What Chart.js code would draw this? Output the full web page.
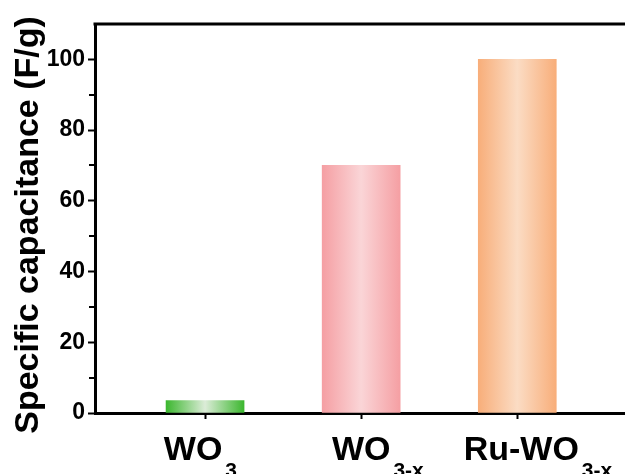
<!DOCTYPE html>
<html>
<head>
<meta charset="utf-8">
<script src="https://cdn.jsdelivr.net/npm/chart.js@4/dist/chart.umd.min.js"></script>
<style>
  html, body { margin: 0; padding: 0; background: #fff; }
  #c { display: block; }
</style>
</head>
<body>
<canvas id="c" width="625" height="474"></canvas>
<script>
// Samples and their specific capacitance (F/g)
const sampleNames = ['WO', 'WO', 'Ru-WO'];
const sampleSubscripts = ['3', '3-x', '3-x'];
const capacitance = [3.5, 70, 100];

// Axis ticks
const yMajorTicks = [0, 20, 40, 60, 80, 100];
const yMinorTicks = [10, 30, 50, 70, 90];

// Bar fill: darker edges fading to a light centre
const edgeColors = ['#3cb72f', '#f59fa3', '#f8ae7a'];
const centerColors = ['#dcecd8', '#fad5d7', '#fbdcc4'];

// Layout constants
const FONT = '"Liberation Sans", Arial, Helvetica, sans-serif';
const BAR_WIDTH = 78;
const labelNudge = [-12, 0, 4];

const positions = capacitance.map((_, i) => i + 1);

function barFill(ctx) {
  const chart = ctx.chart;
  const i = ctx.dataIndex;
  if (!chart.chartArea || i === undefined) return edgeColors[0];
  const cx = chart.scales.x.getPixelForValue(positions[i]);
  const g = chart.ctx.createLinearGradient(cx - BAR_WIDTH / 2, 0, cx + BAR_WIDTH / 2, 0);
  g.addColorStop(0, edgeColors[i]);
  g.addColorStop(0.5, centerColors[i]);
  g.addColorStop(1, edgeColors[i]);
  return g;
}

// Frame line on top, minor y ticks, category labels with subscripts and y title
const decorations = {
  id: 'decorations',
  afterDraw(chart) {
    const { ctx, chartArea: a, scales: { x, y } } = chart;
    ctx.save();
    ctx.strokeStyle = '#000';
    ctx.lineWidth = 3;
    ctx.beginPath();
    ctx.moveTo(a.left - 1.5, a.top);
    ctx.lineTo(a.right, a.top);
    ctx.stroke();

    ctx.lineWidth = 2;
    yMinorTicks.forEach(v => {
      const py = Math.round(y.getPixelForValue(v));
      ctx.beginPath();
      ctx.moveTo(a.left - 1, py);
      ctx.lineTo(a.left - 6, py);
      ctx.stroke();
    });

    ctx.fillStyle = '#000';
    ctx.textBaseline = 'alphabetic';
    ctx.textAlign = 'left';
    sampleNames.forEach((name, i) => {
      const cx = x.getPixelForValue(positions[i]) + labelNudge[i];
      ctx.font = 'bold 34px ' + FONT;
      const w1 = ctx.measureText(name).width;
      const x0 = cx - w1 / 2;
      ctx.fillText(name, x0, 460);
      ctx.font = 'bold 21px ' + FONT;
      ctx.fillText(sampleSubscripts[i], x0 + w1 + 3, 477);
    });

    ctx.font = 'bold 34px ' + FONT;
    ctx.translate(37.5, 225);
    ctx.rotate(-Math.PI / 2);
    ctx.textAlign = 'center';
    ctx.fillText('Specific capacitance (F/g)', 0, 0);
    ctx.restore();
  }
};

new Chart(document.getElementById('c'), {
  type: 'bar',
  data: {
    datasets: [{
      data: capacitance.map((v, i) => ({ x: positions[i], y: v })),
      backgroundColor: barFill,
      borderWidth: 0,
      barThickness: BAR_WIDTH
    }]
  },
  options: {
    responsive: false,
    animation: false,
    layout: { padding: { top: 24, right: 0, left: 0, bottom: 0 } },
    plugins: { legend: { display: false }, tooltip: { enabled: false } },
    scales: {
      x: {
        type: 'linear',
        min: 0.295,
        max: 3.69,
        offset: false,
        z: 1,
        afterBuildTicks: s => { s.ticks = positions.map(v => ({ value: v })); },
        afterFit: s => { s.height = 61; },
        ticks: { display: false },
        grid: { offset: false, drawOnChartArea: false, drawTicks: true, tickLength: 6, tickWidth: 2, tickColor: '#000' },
        border: { display: true, width: 3, color: '#000' }
      },
      y: {
        min: 0,
        max: 110,
        z: 1,
        afterBuildTicks: s => { s.ticks = yMajorTicks.map(v => ({ value: v })); },
        afterFit: s => { s.width = 95; },
        ticks: {
          color: '#000',
          padding: 3,
          font: { family: FONT, size: 23, weight: 'bold' }
        },
        grid: { drawOnChartArea: false, drawTicks: true, tickLength: 7, tickWidth: 2, tickColor: '#000' },
        border: { display: true, width: 3, color: '#000' }
      }
    }
  },
  plugins: [decorations]
});
</script>
</body>
</html>
